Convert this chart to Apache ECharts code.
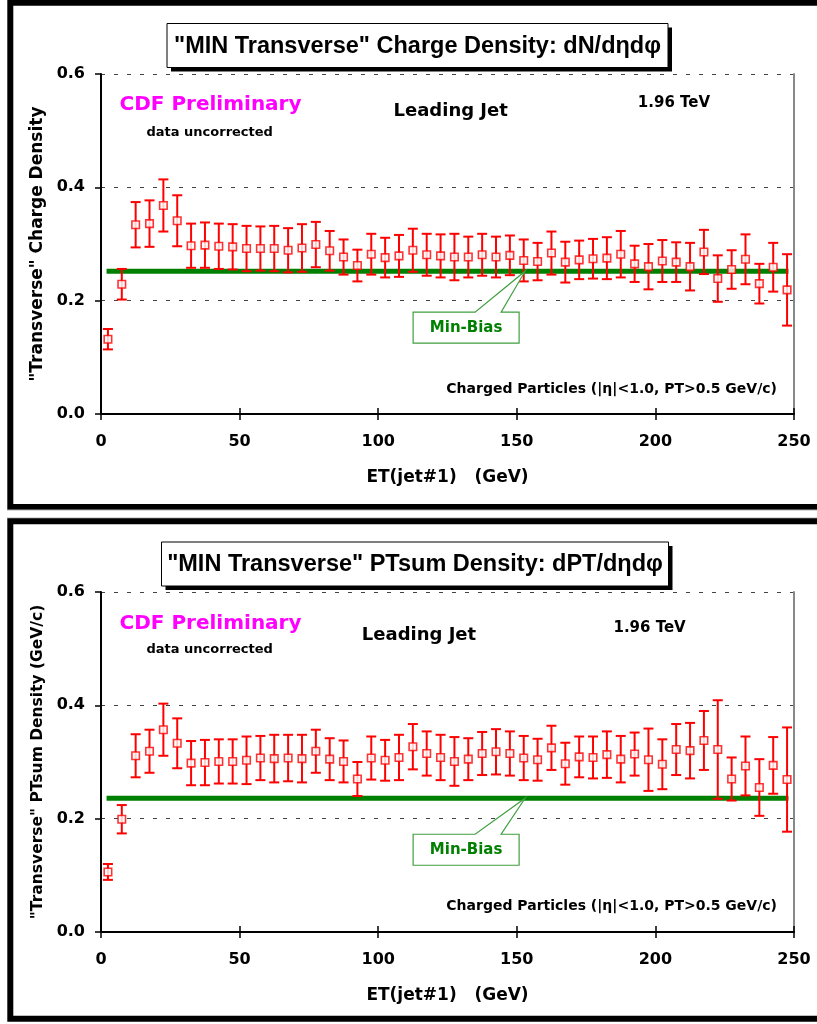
<!DOCTYPE html>
<html>
<head>
<meta charset="utf-8">
<script src="https://cdn.jsdelivr.net/npm/echarts@6/dist/echarts.min.js"></script>
<style>
  html, body { margin: 0; padding: 0; background: #fff; }
  #main { width: 817px; height: 1024px; }
</style>
</head>
<body>
<div id="main"></div>
<script>
// ET(jet#1) bin centres, GeV
const etBins = [2.5, 7.5, 12.5, 17.5, 22.5, 27.5, 32.5, 37.5, 42.5, 47.5,
  52.5, 57.5, 62.5, 67.5, 72.5, 77.5, 82.5, 87.5, 92.5, 97.5,
  102.5, 107.5, 112.5, 117.5, 122.5, 127.5, 132.5, 137.5, 142.5, 147.5,
  152.5, 157.5, 162.5, 167.5, 172.5, 177.5, 182.5, 187.5, 192.5, 197.5,
  202.5, 207.5, 212.5, 217.5, 222.5, 227.5, 232.5, 237.5, 242.5, 247.5];

// "MIN Transverse" charge density dN/detadphi
const chargeDensity = [0.132, 0.229, 0.334, 0.336, 0.368, 0.341, 0.297, 0.298, 0.296, 0.295,
  0.292, 0.292, 0.292, 0.289, 0.293, 0.299, 0.288, 0.277, 0.262, 0.282,
  0.276, 0.279, 0.289, 0.281, 0.279, 0.277, 0.277, 0.281, 0.277, 0.280,
  0.271, 0.269, 0.284, 0.268, 0.272, 0.274, 0.275, 0.282, 0.265, 0.260,
  0.270, 0.268, 0.260, 0.286, 0.239, 0.255, 0.273, 0.230, 0.259, 0.219];
const chargeErr = [0.018, 0.027, 0.040, 0.041, 0.046, 0.045, 0.039, 0.040, 0.040, 0.040,
  0.040, 0.039, 0.040, 0.039, 0.042, 0.040, 0.035, 0.031, 0.028, 0.036,
  0.035, 0.037, 0.038, 0.037, 0.038, 0.041, 0.036, 0.037, 0.036, 0.035,
  0.037, 0.033, 0.038, 0.036, 0.034, 0.035, 0.037, 0.041, 0.032, 0.040,
  0.037, 0.035, 0.042, 0.039, 0.041, 0.034, 0.044, 0.035, 0.043, 0.063];

// "MIN Transverse" PTsum density dPT/detadphi (GeV/c)
const ptsumDensity = [0.106, 0.199, 0.311, 0.319, 0.357, 0.333, 0.298, 0.299, 0.301, 0.301,
  0.303, 0.307, 0.306, 0.307, 0.306, 0.319, 0.305, 0.301, 0.270, 0.307,
  0.303, 0.308, 0.327, 0.315, 0.308, 0.301, 0.305, 0.315, 0.318, 0.315,
  0.307, 0.304, 0.325, 0.297, 0.309, 0.308, 0.313, 0.305, 0.314, 0.304,
  0.296, 0.322, 0.320, 0.338, 0.322, 0.270, 0.293, 0.255, 0.294, 0.269];
const ptsumErr = [0.014, 0.025, 0.038, 0.038, 0.046, 0.044, 0.039, 0.040, 0.039, 0.039,
  0.042, 0.039, 0.042, 0.041, 0.042, 0.038, 0.037, 0.037, 0.030, 0.038,
  0.036, 0.040, 0.040, 0.039, 0.040, 0.043, 0.037, 0.038, 0.040, 0.039,
  0.039, 0.037, 0.039, 0.037, 0.036, 0.037, 0.041, 0.041, 0.038, 0.055,
  0.044, 0.045, 0.049, 0.052, 0.087, 0.038, 0.052, 0.050, 0.050, 0.092];

// Min-Bias reference levels and the line's ET span
const minBiasCharge = 0.252;
const minBiasPtsum = 0.236;
const minBiasSpan = [2, 248];
const calloutEt = 153;

const RED = '#ff0000';
const GREEN = '#008000';
const WIDE = '"DejaVu Sans", sans-serif';
const ARIAL = '"Liberation Sans", Arial, sans-serif';

const panels = [
  {
    top: 74, values: chargeDensity, errors: chargeErr, minBias: minBiasCharge,
    yName: '"Transverse" Charge Density', yNameSize: 17,
    title: '"MIN Transverse" Charge Density: dN/d\u03b7d\u03c6',
    titleBox: [167, 23.5, 501, 44],
    cdf: [210.5, 105], uncorr: [209.7, 132.5], jet: [450.7, 111.5], tev: [674, 103], charged: [777, 389],
    callout: [41, 72]
  },
  {
    top: 592, values: ptsumDensity, errors: ptsumErr, minBias: minBiasPtsum,
    yName: '"Transverse" PTsum Density (GeV/c)', yNameSize: 15.5,
    title: '"MIN Transverse" PTsum Density: dPT/d\u03b7d\u03c6',
    titleBox: [161.5, 542, 507, 44],
    cdf: [210.5, 624], uncorr: [209.7, 649.5], jet: [419, 635], tev: [649.6, 628], charged: [777, 906],
    callout: [36, 67]
  }
];

function errorBarItem(params, api) {
  const x = api.value(0);
  const hi = api.coord([x, api.value(2)]);
  const lo = api.coord([x, api.value(1)]);
  const hw = 5;
  const style = { stroke: RED, lineWidth: 2 };
  return {
    type: 'group',
    children: [
      { type: 'line', shape: { x1: hi[0], y1: hi[1], x2: lo[0], y2: lo[1] }, style },
      { type: 'line', shape: { x1: hi[0] - hw, y1: hi[1], x2: hi[0] + hw, y2: hi[1] }, style },
      { type: 'line', shape: { x1: lo[0] - hw, y1: lo[1], x2: lo[0] + hw, y2: lo[1] }, style }
    ]
  };
}

function makeCallout(dTop, dBot) {
  return function (params, api) {
    const p = api.coord([api.value(0), api.value(1)]);
    const tx = p[0], ty = p[1];
    const pts = [[tx - 112, ty + dTop], [tx - 50, ty + dTop], [tx, ty], [tx - 24, ty + dTop],
      [tx - 6, ty + dTop], [tx - 6, ty + dBot], [tx - 112, ty + dBot]];
    return {
      type: 'group',
      children: [
        { type: 'polygon', shape: { points: pts }, style: { fill: '#fff', stroke: '#3f9f3f', lineWidth: 1.2 } },
        {
          type: 'text', x: tx - 59, y: ty + (dTop + dBot) / 2,
          style: { text: 'Min-Bias', fill: GREEN, font: 'bold 15px ' + WIDE, align: 'center', verticalAlign: 'middle' }
        }
      ]
    };
  };
}

const grids = [], xAxes = [], yAxes = [], series = [], graphics = [];

// panel frames
graphics.push(
  { type: 'rect', shape: { x: 10.3, y: 2.7, width: 900, height: 504.3 }, style: { fill: null, stroke: '#000', lineWidth: 6 }, z: 10 },
  { type: 'line', shape: { x1: 7, y1: 510, x2: 817, y2: 510 }, style: { stroke: '#b0b0b0', lineWidth: 1 }, z: 10 },
  { type: 'line', shape: { x1: 7, y1: 518, x2: 817, y2: 518 }, style: { stroke: '#b0b0b0', lineWidth: 1 }, z: 10 },
  { type: 'rect', shape: { x: 10.3, y: 521.3, width: 900, height: 497.5 }, style: { fill: null, stroke: '#000', lineWidth: 6 }, z: 10 }
);

panels.forEach((p, i) => {
  grids.push({ left: 101, top: p.top, width: 693, height: 340 });

  // main x axis
  xAxes.push({
    type: 'value', gridIndex: i, min: 0, max: 250, interval: 50,
    axisLine: { onZero: false, lineStyle: { color: '#000', width: 2 } },
    axisTick: { length: 6, lineStyle: { color: '#000', width: 1.5 } },
    axisLabel: { color: '#000', fontFamily: WIDE, fontWeight: 'bold', fontSize: 16, margin: 20 },
    splitLine: { show: false },
    name: 'ET(jet#1)   (GeV)', nameLocation: 'middle', nameGap: 55,
    nameTextStyle: { color: '#000', fontFamily: WIDE, fontWeight: 'bold', fontSize: 17 }
  });
  // inner half of the crossing ticks
  xAxes.push({
    type: 'value', gridIndex: i, min: 0, max: 250, interval: 50, position: 'bottom',
    axisLine: { show: false, onZero: false },
    axisTick: { inside: true, length: 6, lineStyle: { color: '#000', width: 1.5 } },
    axisLabel: { show: false }, splitLine: { show: false }
  });

  yAxes.push({
    type: 'value', gridIndex: i, min: 0, max: 0.6, interval: 0.2,
    axisLine: { show: true, onZero: false, lineStyle: { color: '#000', width: 2 } },
    axisTick: { show: true, length: 6, lineStyle: { color: '#000', width: 1.5 } },
    axisLabel: { color: '#000', fontFamily: WIDE, fontWeight: 'bold', fontSize: 16, margin: 16,
      formatter: v => v.toFixed(1) },
    splitLine: { show: true, lineStyle: { color: '#444', type: [4, 9], width: 1 } },
    name: p.yName, nameLocation: 'middle', nameGap: 49,
    nameTextStyle: { color: '#000', fontFamily: WIDE, fontWeight: 'bold', fontSize: p.yNameSize }
  });
  // grey right-hand border of the plot area
  yAxes.push({
    type: 'value', gridIndex: i, min: 0, max: 0.6, interval: 0.2, position: 'right',
    axisLine: { show: true, onZero: false, lineStyle: { color: '#888', width: 2 } },
    axisTick: { show: false }, axisLabel: { show: false }, splitLine: { show: false }
  });

  const xi = i * 2, yi = i * 2;

  series.push({
    type: 'line', xAxisIndex: xi, yAxisIndex: yi, z: 2,
    data: minBiasSpan.map(x => [x, p.minBias]),
    symbol: 'none', silent: true,
    lineStyle: { color: GREEN, width: 5 }
  });
  series.push({
    type: 'custom', xAxisIndex: xi, yAxisIndex: yi, z: 3,
    renderItem: errorBarItem,
    data: etBins.map((x, k) => [x, p.values[k] - p.errors[k], p.values[k] + p.errors[k]])
  });
  series.push({
    type: 'scatter', xAxisIndex: xi, yAxisIndex: yi, z: 4,
    symbol: 'rect', symbolSize: 7.5,
    itemStyle: { color: '#fff', borderColor: RED, borderWidth: 1.6 },
    data: etBins.map((x, k) => [x, p.values[k]])
  });
  series.push({
    type: 'custom', xAxisIndex: xi, yAxisIndex: yi, z: 5, clip: false,
    renderItem: makeCallout(p.callout[0], p.callout[1]),
    data: [[calloutEt, p.minBias]]
  });

  // title box with drop shadow
  const tb = p.titleBox;
  graphics.push(
    { type: 'rect', shape: { x: tb[0] + 4, y: tb[1] + 4, width: tb[2], height: tb[3] }, style: { fill: '#000' }, z: 10 },
    { type: 'rect', shape: { x: tb[0], y: tb[1], width: tb[2], height: tb[3] }, style: { fill: '#fff', stroke: '#000', lineWidth: 1 }, z: 11 },
    { type: 'text', x: tb[0] + tb[2] / 2, y: tb[1] + tb[3] / 2 + 1, z: 12,
      style: { text: p.title, font: 'bold 23.5px ' + ARIAL, fill: '#000', align: 'center', verticalAlign: 'middle' } }
  );

  const txt = (pos, text, font, fill, align) => ({
    type: 'text', x: pos[0], y: pos[1], z: 12,
    style: { text, font, fill: fill || '#000', align: align || 'center', verticalAlign: 'middle' }
  });
  graphics.push(
    txt(p.cdf, 'CDF Preliminary', 'bold 20px ' + WIDE, '#ff00ff'),
    txt(p.uncorr, 'data uncorrected', 'bold 13px ' + WIDE),
    txt(p.jet, 'Leading Jet', 'bold 18px ' + WIDE),
    txt(p.tev, '1.96 TeV', 'bold 15px ' + WIDE),
    txt(p.charged, 'Charged Particles (|\u03b7|<1.0, PT>0.5 GeV/c)', 'bold 14px ' + WIDE, '#000', 'right')
  );
});

const chart = echarts.init(document.getElementById('main'));
chart.setOption({
  backgroundColor: '#fff',
  animation: false,
  grid: grids,
  xAxis: xAxes,
  yAxis: yAxes,
  series: series,
  graphic: graphics
});
</script>
</body>
</html>
